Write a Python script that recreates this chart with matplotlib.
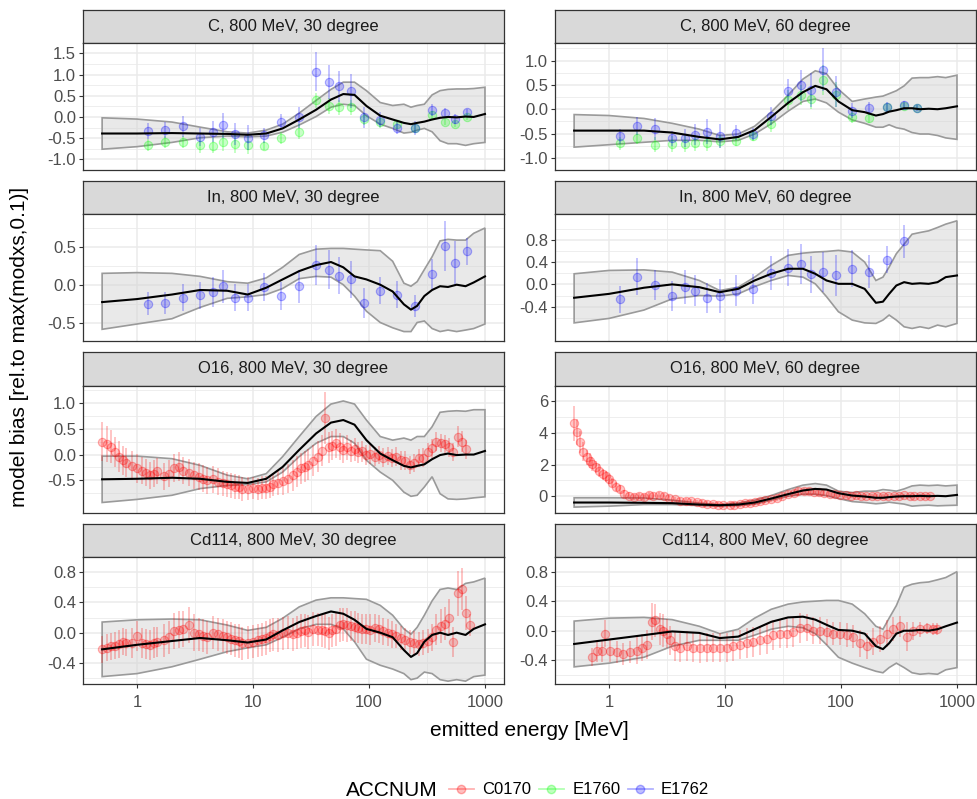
import matplotlib
matplotlib.use("Agg")
import matplotlib.pyplot as plt
import numpy as np
from matplotlib.colors import to_rgba
from matplotlib.lines import Line2D

plt.rcParams["font.family"] = ["Liberation Sans", "DejaVu Sans"]

# ---- model curves (common energy grid) ----
E_CURVE = [0.5, 1, 2, 3.5, 6, 9, 13, 18, 25, 35, 47, 60, 75, 95, 125, 160, 200,
           230, 260, 300, 350, 410, 480, 570, 680, 800, 1000]

C30_MODEL = [-0.39, -0.39, -0.38, -0.39, -0.40, -0.42, -0.39, -0.27, -0.06, 0.17, 0.41, 0.54, 0.52, 0.26,
             0.03, -0.06, -0.14, -0.17, -0.14, -0.11, -0.06, -0.02, 0.00, -0.01, 0.01, 0.00, 0.07]
C30_HI = [-0.02, -0.05, -0.12, -0.24, -0.35, -0.38, -0.31, -0.17, 0.09, 0.39, 0.65, 0.82, 0.82, 0.62,
          0.34, 0.27, 0.30, 0.23, 0.27, 0.30, 0.52, 0.62, 0.65, 0.66, 0.66, 0.67, 0.70]
C30_LO = [-0.76, -0.70, -0.60, -0.49, -0.45, -0.47, -0.45, -0.36, -0.19, 0.01, 0.23, 0.30, 0.27, 0.03,
          -0.17, -0.27, -0.38, -0.36, -0.31, -0.27, -0.35, -0.56, -0.63, -0.63, -0.67, -0.63, -0.60]

C60_MODEL = [-0.44, -0.44, -0.44, -0.48, -0.57, -0.62, -0.57, -0.43, -0.16, 0.13, 0.35, 0.48, 0.41, 0.16,
             -0.02, -0.06, -0.13, -0.10, -0.05, -0.02, 0.02, 0.02, 0.00, 0.01, 0.00, 0.02, 0.06]
C60_HI = [-0.11, -0.13, -0.19, -0.29, -0.41, -0.54, -0.51, -0.35, -0.06, 0.29, 0.62, 0.79, 0.73, 0.41,
          0.16, 0.21, 0.25, 0.27, 0.32, 0.38, 0.48, 0.64, 0.65, 0.65, 0.67, 0.65, 0.70]
C60_LO = [-0.78, -0.73, -0.68, -0.64, -0.64, -0.67, -0.64, -0.51, -0.30, -0.04, 0.16, 0.21, 0.13, -0.06,
          -0.22, -0.29, -0.37, -0.37, -0.32, -0.38, -0.41, -0.48, -0.51, -0.51, -0.54, -0.59, -0.62]

IN30_MODEL = [-0.23, -0.19, -0.13, -0.07, -0.08, -0.13, -0.04, 0.07, 0.18, 0.26, 0.30, 0.23, 0.11, 0.07,
              0.00, -0.09, -0.26, -0.33, -0.28, -0.15, -0.07, -0.02, -0.03, 0.00, -0.02, 0.03, 0.11]
IN30_HI = [0.15, 0.16, 0.15, 0.11, 0.04, 0.02, 0.09, 0.23, 0.40, 0.47, 0.48, 0.48, 0.47, 0.46,
           0.45, 0.31, 0.02, -0.02, 0.04, 0.20, 0.37, 0.58, 0.60, 0.59, 0.59, 0.68, 0.75]
IN30_LO = [-0.59, -0.52, -0.45, -0.30, -0.18, -0.16, -0.13, -0.05, 0.08, 0.11, 0.10, 0.00, -0.15, -0.35,
           -0.50, -0.57, -0.62, -0.62, -0.50, -0.48, -0.58, -0.62, -0.60, -0.62, -0.60, -0.58, -0.52]

IN60_MODEL = [-0.24, -0.17, -0.06, 0.00, -0.05, -0.14, -0.08, 0.07, 0.19, 0.28, 0.28, 0.19, 0.07, 0.01,
              0.01, -0.08, -0.33, -0.31, -0.17, -0.02, 0.04, 0.01, 0.02, 0.01, 0.04, 0.13, 0.16]
IN60_HI = [0.19, 0.25, 0.26, 0.22, 0.07, -0.11, -0.05, 0.13, 0.34, 0.52, 0.56, 0.58, 0.59, 0.61,
           0.58, 0.40, 0.07, 0.13, 0.31, 0.55, 0.72, 0.90, 0.93, 0.96, 1.02, 1.08, 1.14]
IN60_LO = [-0.69, -0.61, -0.46, -0.26, -0.20, -0.21, -0.17, -0.04, 0.07, 0.16, 0.13, 0.01, -0.22, -0.49,
           -0.64, -0.69, -0.70, -0.64, -0.55, -0.64, -0.76, -0.79, -0.76, -0.79, -0.73, -0.76, -0.70]

O16_30_MODEL = [-0.48, -0.47, -0.45, -0.47, -0.53, -0.55, -0.47, -0.24, 0.09, 0.41, 0.62, 0.67, 0.58, 0.28,
                0.02, -0.11, -0.22, -0.25, -0.22, -0.19, -0.09, -0.01, 0.02, -0.01, 0.00, 0.00, 0.07]
O16_30_HI = [-0.03, -0.03, -0.08, -0.21, -0.40, -0.47, -0.37, -0.04, 0.35, 0.74, 0.98, 1.04, 0.98, 0.67,
             0.35, 0.28, 0.32, 0.28, 0.35, 0.35, 0.54, 0.82, 0.84, 0.85, 0.84, 0.87, 0.87]
O16_30_LO = [-0.93, -0.87, -0.79, -0.66, -0.60, -0.58, -0.53, -0.34, -0.04, 0.22, 0.35, 0.35, 0.22, -0.11,
             -0.34, -0.50, -0.73, -0.81, -0.79, -0.63, -0.43, -0.76, -0.86, -0.87, -0.86, -0.84, -0.82]

O16_60_MODEL = [-0.40, -0.40, -0.42, -0.44, -0.53, -0.57, -0.53, -0.40, -0.15, 0.13, 0.36, 0.46, 0.42, 0.19,
                0.04, -0.02, -0.10, -0.10, -0.06, -0.02, 0.00, 0.00, 0.02, 0.00, 0.02, 0.00, 0.08]
O16_60_HI = [-0.10, -0.10, -0.11, -0.25, -0.44, -0.53, -0.44, -0.25, 0.04, 0.42, 0.70, 0.80, 0.70, 0.32,
             0.23, 0.32, 0.32, 0.42, 0.38, 0.32, 0.46, 0.65, 0.70, 0.67, 0.70, 0.65, 0.70]
O16_60_LO = [-0.69, -0.63, -0.53, -0.53, -0.59, -0.63, -0.59, -0.50, -0.25, 0.00, 0.13, 0.13, 0.04, -0.15,
             -0.34, -0.40, -0.48, -0.44, -0.38, -0.44, -0.50, -0.63, -0.59, -0.57, -0.61, -0.59, -0.57]

CD30_MODEL = [-0.22, -0.16, -0.11, -0.07, -0.10, -0.13, -0.09, 0.03, 0.14, 0.22, 0.28, 0.25, 0.17, 0.05,
              0.00, -0.06, -0.23, -0.32, -0.27, -0.12, -0.03, 0.00, -0.03, 0.00, -0.03, 0.05, 0.11]
CD30_HI = [0.14, 0.17, 0.18, 0.17, 0.10, 0.03, 0.07, 0.19, 0.34, 0.43, 0.46, 0.46, 0.45, 0.44,
           0.36, 0.23, 0.05, -0.02, 0.07, 0.23, 0.42, 0.57, 0.59, 0.57, 0.65, 0.67, 0.72]
CD30_LO = [-0.58, -0.54, -0.45, -0.35, -0.25, -0.20, -0.16, -0.06, 0.05, 0.11, 0.11, 0.05, -0.12, -0.35,
           -0.43, -0.48, -0.54, -0.62, -0.60, -0.52, -0.54, -0.62, -0.64, -0.62, -0.64, -0.58, -0.56]

CD60_MODEL = [-0.18, -0.12, -0.06, -0.01, -0.03, -0.10, -0.08, 0.02, 0.12, 0.18, 0.19, 0.15, 0.08, 0.01,
              0.00, -0.04, -0.21, -0.25, -0.17, -0.04, 0.00, 0.00, 0.01, 0.00, 0.02, 0.06, 0.11]
CD60_HI = [0.13, 0.17, 0.18, 0.15, 0.06, -0.04, 0.02, 0.17, 0.29, 0.36, 0.39, 0.40, 0.41, 0.41,
           0.36, 0.23, 0.06, 0.02, 0.17, 0.34, 0.59, 0.63, 0.65, 0.66, 0.69, 0.72, 0.80]
CD60_LO = [-0.49, -0.44, -0.36, -0.21, -0.13, -0.13, -0.13, -0.06, 0.02, 0.06, 0.04, -0.04, -0.19, -0.36,
           -0.44, -0.50, -0.55, -0.57, -0.50, -0.44, -0.50, -0.57, -0.59, -0.58, -0.59, -0.53, -0.50]

# ---- experimental points ----
E_SPARSE = [1.25, 1.75, 2.5, 3.5, 4.5, 5.5, 7, 9, 12.5, 17.5, 25, 35, 45, 55, 70, 90,
            125, 175, 250, 350, 450, 550, 700]

C30_E1762 = [-0.33, -0.31, -0.22, -0.47, -0.35, -0.20, -0.40, -0.49, -0.43, -0.11, -0.01, 1.07, 0.82, 0.72,
             0.61, -0.01, -0.06, -0.27, -0.26, 0.16, 0.10, -0.05, 0.12]
C30_E1762_ERR = [0.19, 0.18, 0.25, 0.22, 0.25, 0.29, 0.25, 0.29, 0.18, 0.18, 0.25, 0.47, 0.40, 0.36,
                 0.40, 0.25, 0.18, 0.14, 0.16, 0.14, 0.11, 0.11, 0.07]
C30_E1760 = [-0.66, -0.60, -0.58, -0.66, -0.68, -0.58, -0.63, -0.66, -0.68, -0.50, -0.35, 0.39, 0.26, 0.23,
             0.23, -0.05, -0.12, -0.17, -0.27, 0.05, -0.12, -0.17, 0.01]
C30_E1760_ERR = [0.14, 0.14, 0.14, 0.18, 0.18, 0.22, 0.22, 0.22, 0.11, 0.14, 0.18, 0.18, 0.18, 0.18,
                 0.18, 0.14, 0.14, 0.11, 0.10, 0.10, 0.07, 0.07, 0.07]

C60_E1762 = [-0.56, -0.35, -0.41, -0.60, -0.59, -0.52, -0.46, -0.55, -0.48, -0.51, -0.14, 0.38, 0.49, 0.39,
             0.81, 0.36, -0.03, 0.02, 0.04, 0.08, 0.03]
C60_E1762_ERR = [0.16, 0.19, 0.22, 0.16, 0.19, 0.22, 0.25, 0.25, 0.16, 0.13, 0.19, 0.25, 0.32, 0.35,
                 0.44, 0.32, 0.16, 0.13, 0.10, 0.08, 0.06]
C60_E1760 = [-0.70, -0.59, -0.73, -0.72, -0.72, -0.70, -0.70, -0.66, -0.65, -0.55, -0.30, 0.19, 0.29, 0.20,
             0.60, 0.30, -0.16, -0.19, 0.04, 0.07, 0.03]
C60_E1760_ERR = [0.13, 0.13, 0.16, 0.16, 0.16, 0.16, 0.16, 0.13, 0.10, 0.10, 0.16, 0.20, 0.20, 0.20,
                 0.30, 0.25, 0.13, 0.10, 0.07, 0.06, 0.05]

IN30_E1762 = [-0.25, -0.24, -0.17, -0.14, -0.10, -0.02, -0.17, -0.17, -0.03, -0.15, -0.02, 0.26, 0.20, 0.12,
              0.07, -0.24, -0.08, -0.13, -0.28, 0.14, 0.51, 0.29, 0.44]
IN30_E1762_ERR = [0.15, 0.15, 0.18, 0.18, 0.20, 0.22, 0.18, 0.18, 0.18, 0.18, 0.22, 0.26, 0.26, 0.24,
                  0.24, 0.20, 0.18, 0.18, 0.15, 0.20, 0.33, 0.29, 0.18]

IN60_E1762 = [-0.27, 0.14, -0.01, -0.21, -0.05, -0.11, -0.24, -0.21, -0.11, -0.08, 0.20, 0.30, 0.36, 0.18,
              0.22, 0.16, 0.28, 0.23, 0.44, 0.77]
IN60_E1762_ERR = [0.24, 0.33, 0.27, 0.27, 0.30, 0.27, 0.27, 0.30, 0.27, 0.27, 0.30, 0.33, 0.36, 0.33,
                  0.36, 0.36, 0.33, 0.30, 0.24, 0.30]

E_O16_30 = [0.5, 0.55, 0.6, 0.65, 0.7, 0.75, 0.8, 0.9, 1.0, 1.1, 1.2, 1.3, 1.4, 1.5, 1.7, 1.9, 2.1, 2.3,
            2.5, 2.8, 3.1, 3.4, 3.7, 4.0, 4.5, 5.0, 5.5, 6.0, 6.5, 7.0, 7.5, 8.0, 9.0, 10, 11, 12, 13, 14,
            15, 16.5, 18, 20, 22, 24, 26, 28, 30, 33, 36, 39, 42, 45, 48, 52, 56, 60, 65, 70, 75, 80, 87,
            95, 103, 112, 122, 133, 145, 158, 172, 188, 205, 225, 245, 268, 292, 320, 350, 380, 415, 450,
            490, 530, 580, 630, 690]
O16_30_C0170 = [0.25, 0.20, 0.15, 0.05, -0.04, -0.11, -0.16, -0.22, -0.27, -0.31,
                -0.35, -0.40, -0.37, -0.32, -0.42, -0.37, -0.26, -0.24, -0.31, -0.35,
                -0.40, -0.43, -0.47, -0.50, -0.48, -0.53, -0.56, -0.58, -0.60, -0.62,
                -0.63, -0.67, -0.66, -0.65, -0.67, -0.64, -0.64, -0.62, -0.58, -0.55,
                -0.52, -0.47, -0.40, -0.33, -0.27, -0.24, -0.20, -0.12, -0.04, 0.07,
                0.71, 0.14, 0.17, 0.22, 0.15, 0.09, 0.14, 0.07, 0.10, 0.04,
                0.06, -0.01, 0.02, -0.04, -0.01, -0.06, -0.03, -0.07, -0.04, -0.11,
                -0.12, -0.20, -0.16, -0.07, -0.06, 0.05, 0.12, 0.25, 0.22, 0.20,
                0.14, 0.05, 0.35, 0.25, 0.10]
O16_30_ERR = [0.38, 0.35, 0.32, 0.30, 0.30, 0.28, 0.28, 0.28, 0.28, 0.26,
              0.26, 0.26, 0.26, 0.26, 0.26, 0.26, 0.28, 0.28, 0.26, 0.26,
              0.26, 0.26, 0.26, 0.26, 0.26, 0.26, 0.24, 0.24, 0.24, 0.24,
              0.24, 0.24, 0.22, 0.22, 0.22, 0.22, 0.22, 0.22, 0.22, 0.24,
              0.26, 0.28, 0.30, 0.30, 0.30, 0.30, 0.30, 0.30, 0.30, 0.30,
              0.50, 0.30, 0.28, 0.28, 0.26, 0.26, 0.24, 0.22, 0.22, 0.20,
              0.20, 0.20, 0.20, 0.18, 0.18, 0.18, 0.18, 0.18, 0.18, 0.18,
              0.18, 0.18, 0.18, 0.18, 0.18, 0.18, 0.18, 0.18, 0.18, 0.18,
              0.18, 0.18, 0.20, 0.20, 0.18]

E_O16_60 = [0.5, 0.53, 0.56, 0.6, 0.64, 0.68, 0.72, 0.77, 0.82, 0.88, 0.94, 1.0, 1.07, 1.15, 1.25, 1.35,
            1.5, 1.65, 1.8, 2.0, 2.2, 2.4, 2.7, 3.0, 3.3, 3.7, 4.1, 4.6, 5.1, 5.7, 6.3, 7.0, 7.8, 8.7, 9.7,
            11, 12, 13.5, 15, 16.5, 18, 20, 22, 25, 28, 31, 35, 39, 43, 48, 53, 59, 65, 72, 80, 88, 98,
            110, 122, 135, 150, 165, 185, 205, 230, 255, 285, 315, 350, 390, 430, 480, 530, 590]
O16_60_C0170 = [4.60, 4.05, 3.45, 2.80, 2.45, 2.25, 2.05, 1.85, 1.62, 1.40,
                1.25, 1.10, 0.85, 0.60, 0.45, 0.15, 0.02, -0.05, 0.00, -0.08,
                0.05, 0.02, 0.06, 0.00, -0.12, -0.20, -0.28, -0.30, -0.32, -0.38,
                -0.42, -0.48, -0.52, -0.55, -0.56, -0.55, -0.53, -0.50, -0.46, -0.44,
                -0.38, -0.32, -0.27, -0.18, -0.10, 0.00, 0.12, 0.22, 0.30, 0.32,
                0.30, 0.28, 0.24, 0.20, 0.15, 0.12, 0.08, 0.05, 0.04, 0.05,
                0.04, 0.02, 0.00, 0.02, 0.00, 0.03, 0.04, 0.02, 0.05, 0.03,
                0.04, 0.03, 0.04, 0.02]
O16_60_ERR = [1.10, 0.80, 0.70, 0.60, 0.50, 0.45, 0.45, 0.40, 0.40, 0.35,
              0.35, 0.30, 0.30, 0.28, 0.25, 0.25, 0.22, 0.20, 0.20, 0.20,
              0.20, 0.20, 0.20, 0.20, 0.18, 0.18, 0.18, 0.16, 0.16, 0.16,
              0.16, 0.16, 0.16, 0.16, 0.16, 0.16, 0.16, 0.16, 0.16, 0.16,
              0.16, 0.16, 0.16, 0.16, 0.18, 0.18, 0.20, 0.20, 0.22, 0.22,
              0.22, 0.22, 0.20, 0.20, 0.18, 0.16, 0.16, 0.14, 0.14, 0.14,
              0.12, 0.12, 0.12, 0.12, 0.12, 0.12, 0.12, 0.12, 0.12, 0.12,
              0.12, 0.12, 0.12, 0.12]

E_CD30 = E_O16_30 + [750]
CD30_C0170 = [-0.22, -0.20, -0.18, -0.17, -0.15, -0.12, -0.13, -0.14, -0.04, -0.14,
              -0.15, -0.16, -0.13, -0.12, -0.10, -0.06, 0.02, 0.04, 0.05, 0.10,
              0.00, -0.02, -0.04, -0.06, 0.00, -0.02, -0.04, -0.06, -0.08, -0.10,
              -0.11, -0.14, -0.13, -0.12, -0.10, -0.09, -0.07, -0.04, -0.02, -0.03,
              -0.01, 0.00, -0.02, 0.00, 0.02, 0.03, 0.01, 0.05, 0.04, 0.03,
              0.02, -0.01, 0.03, 0.05, 0.10, 0.11, 0.10, 0.09, 0.08, 0.06,
              0.05, 0.05, 0.04, 0.06, 0.05, 0.02, 0.00, -0.02, -0.04, -0.07,
              -0.10, -0.12, -0.14, -0.15, -0.13, -0.11, -0.06, 0.04, 0.09, 0.12,
              0.20, -0.12, 0.52, 0.58, 0.26, 0.10]
CD30_ERR = [0.18, 0.18, 0.18, 0.18, 0.18, 0.18, 0.18, 0.20, 0.20, 0.20,
            0.20, 0.20, 0.20, 0.20, 0.22, 0.22, 0.24, 0.24, 0.24, 0.24,
            0.24, 0.22, 0.22, 0.22, 0.22, 0.22, 0.22, 0.22, 0.22, 0.22,
            0.22, 0.22, 0.22, 0.22, 0.22, 0.22, 0.22, 0.22, 0.22, 0.22,
            0.22, 0.22, 0.22, 0.22, 0.22, 0.22, 0.22, 0.22, 0.22, 0.22,
            0.22, 0.22, 0.22, 0.22, 0.22, 0.22, 0.22, 0.20, 0.20, 0.20,
            0.20, 0.20, 0.20, 0.18, 0.18, 0.18, 0.18, 0.18, 0.16, 0.16,
            0.16, 0.16, 0.16, 0.16, 0.16, 0.16, 0.18, 0.20, 0.22, 0.22,
            0.24, 0.20, 0.30, 0.28, 0.22, 0.15]

E_CD60 = [0.71, 0.78, 0.865, 0.92, 1.02, 1.16, 1.33, 1.52, 1.73, 1.91, 2.11, 2.33, 2.49, 2.75, 2.94,
          3.14, 3.36, 3.71, 4.1, 4.67, 5.34, 6.09, 6.95, 7.93, 9.05, 10.3, 11.8, 13.5, 15.4, 17.5, 20,
          22.9, 26.1, 29.8, 34, 38.8, 44.4, 50.6, 57.7, 65.9, 75.2, 85.9, 98, 112, 128, 146, 166, 190,
          217, 248, 282, 323, 368, 421, 480, 548, 625, 668]
CD60_C0170 = [-0.36, -0.27, -0.27, -0.04, -0.27, -0.29, -0.32, -0.29, -0.27, -0.23,
              -0.19, 0.12, 0.14, 0.02, 0.00, -0.04, -0.13, -0.21, -0.23, -0.21,
              -0.23, -0.24, -0.23, -0.23, -0.23, -0.23, -0.21, -0.19, -0.17, -0.15,
              -0.13, -0.11, -0.06, -0.04, -0.04, -0.02, 0.04, 0.04, 0.00, 0.00,
              -0.02, -0.04, -0.04, -0.06, -0.08, -0.17, -0.21, -0.15, -0.11, -0.04,
              0.02, 0.06, -0.08, 0.00, 0.02, 0.03, 0.02, 0.02]
CD60_ERR = [0.12, 0.15, 0.15, 0.18, 0.15, 0.15, 0.15, 0.15, 0.18, 0.18,
            0.20, 0.25, 0.22, 0.22, 0.22, 0.20, 0.20, 0.20, 0.20, 0.20,
            0.20, 0.20, 0.20, 0.20, 0.20, 0.20, 0.20, 0.20, 0.20, 0.20,
            0.20, 0.20, 0.20, 0.20, 0.20, 0.20, 0.20, 0.18, 0.18, 0.18,
            0.18, 0.16, 0.16, 0.16, 0.16, 0.18, 0.18, 0.18, 0.18, 0.18,
            0.16, 0.14, 0.20, 0.12, 0.10, 0.08, 0.08, 0.08]

COLORS = {"C0170": "#FF0000", "E1760": "#00FF00", "E1762": "#0000FF"}

panels = [
    ("C, 800 MeV, 30 degree", C30_MODEL, C30_LO, C30_HI,
     [("E1760", E_SPARSE, C30_E1760, C30_E1760_ERR), ("E1762", E_SPARSE, C30_E1762, C30_E1762_ERR)],
     (-1.071, 1.672), [-1.0, -0.5, 0.0, 0.5, 1.0, 1.5], "{:.1f}"),
    ("C, 800 MeV, 60 degree", C60_MODEL, C60_LO, C60_HI,
     [("E1760", E_SPARSE[:21], C60_E1760, C60_E1760_ERR), ("E1762", E_SPARSE[:21], C60_E1762, C60_E1762_ERR)],
     (-1.057, 1.368), [-1.0, -0.5, 0.0, 0.5, 1.0], "{:.1f}"),
    ("In, 800 MeV, 30 degree", IN30_MODEL, IN30_LO, IN30_HI,
     [("E1762", E_SPARSE, IN30_E1762, IN30_E1762_ERR)],
     (-0.742, 0.934), [-0.5, 0.0, 0.5], "{:.1f}"),
    ("In, 800 MeV, 60 degree", IN60_MODEL, IN60_LO, IN60_HI,
     [("E1762", E_SPARSE[:20], IN60_E1762, IN60_E1762_ERR)],
     (-1.022, 1.26), [-0.4, 0.0, 0.4, 0.8], "{:.1f}"),
    ("O16, 800 MeV, 30 degree", O16_30_MODEL, O16_30_LO, O16_30_HI,
     [("C0170", E_O16_30, O16_30_C0170, O16_30_ERR)],
     (-1.13, 1.34), [-0.5, 0.0, 0.5, 1.0], "{:.1f}"),
    ("O16, 800 MeV, 60 degree", O16_60_MODEL, O16_60_LO, O16_60_HI,
     [("C0170", E_O16_60, O16_60_C0170, O16_60_ERR)],
     (-1.05, 6.19), [0, 2, 4, 6], "{:.0f}"),
    ("Cd114, 800 MeV, 30 degree", CD30_MODEL, CD30_LO, CD30_HI,
     [("C0170", E_CD30, CD30_C0170, CD30_ERR)],
     (-0.68, 0.877), [-0.4, 0.0, 0.4, 0.8], "{:.1f}"),
    ("Cd114, 800 MeV, 60 degree", CD60_MODEL, CD60_LO, CD60_HI,
     [("C0170", E_CD60, CD60_C0170, CD60_ERR)],
     (-0.725, 0.883), [-0.4, 0.0, 0.4, 0.8], "{:.1f}"),
]

W, H = 978, 799
fig = plt.figure(figsize=(W / 100, H / 100), dpi=100)


def add_px_axes(x0, y0, w, h):
    return fig.add_axes([x0 / W, 1 - (y0 + h) / H, w / W, h / H])


BORDER = "#333333"
for i, (title, model, lo, hi, series, ylim, yticks, fmt) in enumerate(panels):
    row, col = divmod(i, 2)
    x0 = 83 if col == 0 else 555
    strip_top = 9.5 + 171.4 * row
    sax = add_px_axes(x0, strip_top, 421, 33.2)
    sax.set_facecolor("#D9D9D9")
    sax.set_xticks([])
    sax.set_yticks([])
    for s in sax.spines.values():
        s.set_color(BORDER)
        s.set_linewidth(0.9)
    sax.text(0.5, 0.5, title, ha="center", va="center", fontsize=12, color="#1A1A1A",
             transform=sax.transAxes)

    ax = add_px_axes(x0, strip_top + 33.2, 421, 127.3)
    ax.set_xscale("log")
    ax.set_xlim(0.342, 1459)
    ax.set_ylim(*ylim)
    ax.set_xticks([1, 10, 100, 1000])
    ax.set_xticks([10 ** 0.5, 10 ** 1.5, 10 ** 2.5], minor=True)
    step = yticks[1] - yticks[0]
    ax.set_yticks(yticks)
    ax.set_yticks([t - step / 2 for t in yticks] + [yticks[-1] + step / 2], minor=True)
    ax.set_yticklabels([fmt.format(t) for t in yticks])
    ax.grid(which="major", color="#EBEBEB", lw=1.1)
    ax.grid(which="minor", color="#EBEBEB", lw=0.6)
    ax.set_axisbelow(True)
    ax.tick_params(which="minor", length=0)
    ax.tick_params(which="major", length=3, width=0.8, color=BORDER, labelsize=12,
                   labelcolor="#4D4D4D", pad=2)
    if row == 3:
        ax.set_xticklabels(["1", "10", "100", "1000"])
        ax.tick_params(axis="x", which="major", pad=5)
    else:
        ax.tick_params(axis="x", which="major", length=0, labelbottom=False)
    for s in ax.spines.values():
        s.set_color(BORDER)
        s.set_linewidth(0.9)

    # model uncertainty band as a closed outline
    ax.fill(E_CURVE + E_CURVE[::-1], hi + lo[::-1], facecolor="#D4D4D4", alpha=0.5,
            edgecolor="none", zorder=2)
    ax.fill(E_CURVE + E_CURVE[::-1], hi + lo[::-1], facecolor="none",
            edgecolor="#9A9A9A", lw=1.2, zorder=3)

    for name, en, val, err in series:
        en = np.array(en)
        val = np.array(val)
        err = np.array(err)
        c = to_rgba(COLORS[name], 0.25)
        ax.vlines(en, val - err, val + err, colors=[c], lw=1.3, zorder=4)
        ax.plot(en, val, "o", ms=6, mfc=to_rgba(COLORS[name], 0.22),
                mec=to_rgba(COLORS[name], 0.3), mew=0.8, zorder=4)

    ax.plot(E_CURVE, model, color="black", lw=1.5, zorder=5)

fig.text(529.5 / W, 1 - 731 / H, "emitted energy [MeV]", ha="center", va="center", fontsize=15)
fig.text(20 / W, 1 - 347 / H, "model bias [rel.to max(modxs,0.1)]", rotation=90,
         ha="center", va="center", fontsize=15)

fig.text(346 / W, 1 - 790 / H, "ACCNUM", ha="left", va="center", fontsize=15)
handles = [Line2D([0], [0], color=to_rgba(COLORS[k], 0.3), lw=1.3, marker="o", ms=6,
                  mfc=to_rgba(COLORS[k], 0.25), mec=to_rgba(COLORS[k], 0.3))
           for k in ["C0170", "E1760", "E1762"]]
fig.legend(handles, ["C0170", "E1760", "E1762"], loc="center left",
           bbox_to_anchor=(449 / W, 1 - 790 / H), ncol=3, frameon=False, fontsize=12,
           handlelength=1.5, handletextpad=0.5, columnspacing=0.45, borderpad=0,
           borderaxespad=0)

fig.savefig("out.png", dpi=100)
